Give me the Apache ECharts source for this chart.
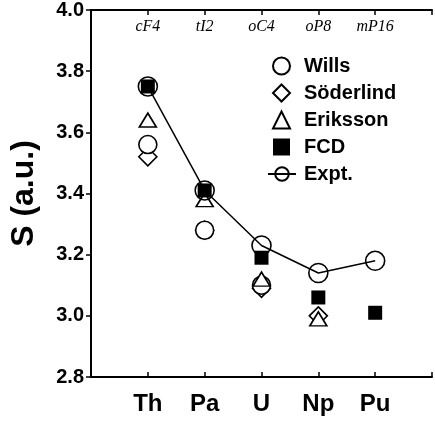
<!DOCTYPE html>
<html>
<head>
<meta charset="utf-8">
<script src="https://cdn.jsdelivr.net/npm/echarts@6/dist/echarts.min.js"></script>
<style>html,body{margin:0;padding:0;background:#fff}#c{width:435px;height:424px}</style>
</head>
<body>
<div id="c"></div>
<script>
const categories = ['Th', 'Pa', 'U', 'Np', 'Pu'];
const structures = ['cF4', 'tI2', 'oC4', 'oP8', 'mP16'];
const yTicks = [2.8, 3.0, 3.2, 3.4, 3.6, 3.8, 4.0];
const wills = [3.56, 3.28, 3.10, null, null];
const soderlind = [3.52, 3.28, 3.09, 3.00, null];
const eriksson = [3.64, 3.38, 3.12, 2.99, null];
const fcd = [3.75, 3.41, 3.19, 3.06, 3.01];
const expt = [3.75, 3.41, 3.23, 3.14, 3.18];

const pts = arr => arr.map((v, i) => v == null ? null : [i + 1, v]).filter(p => p);
const open = { color: '#fff', borderColor: '#000', borderWidth: 1.6, opacity: 1 };
const boldFont = { fontFamily: 'Liberation Sans, Arial, sans-serif', fontWeight: 'bold', color: '#000' };
const legendText = { ...boldFont, fontSize: 20, lineHeight: 20 };

const chart = echarts.init(document.getElementById('c'), null, { renderer: 'canvas' });
chart.setOption({
  animation: false,
  backgroundColor: '#fff',
  grid: { left: 87, right: 2, top: 9, bottom: 47 },
  xAxis: [{
    type: 'value', min: 0, max: 6, interval: 1, position: 'bottom',
    axisLine: { lineStyle: { color: '#000', width: 2 } },
    axisTick: { inside: true, length: 5, lineStyle: { color: '#000', width: 1.5 } },
    splitLine: { show: false },
    axisLabel: { ...boldFont, fontSize: 24, margin: 15,
      formatter: v => (v >= 1 && v <= 5) ? categories[v - 1] : '' }
  }, {
    type: 'value', min: 0, max: 6, interval: 1, position: 'top',
    axisLine: { show: true, lineStyle: { color: '#000', width: 2 } },
    axisTick: { inside: true, length: 5, lineStyle: { color: '#000', width: 1.5 } },
    splitLine: { show: false },
    axisLabel: { inside: true, margin: 9, fontFamily: 'Liberation Serif, Times New Roman, serif',
      fontStyle: 'italic', fontSize: 16, color: '#000',
      formatter: v => (v >= 1 && v <= 5) ? structures[v - 1] : '' }
  }],
  yAxis: [{
    type: 'value', min: yTicks[0], max: yTicks[yTicks.length - 1], interval: 0.2,
    axisLine: { show: true, lineStyle: { color: '#000', width: 2 } },
    axisTick: { show: true, length: 5, lineStyle: { color: '#000', width: 1.5 } },
    splitLine: { show: false },
    axisLabel: { ...boldFont, fontSize: 20, margin: 7, formatter: v => v.toFixed(1) },
    name: 'S (a.u.)', nameLocation: 'middle', nameGap: 51, nameRotate: 90,
    nameTextStyle: { ...boldFont, fontSize: 32 }
  }, {
    type: 'value', min: yTicks[0], max: yTicks[yTicks.length - 1], interval: 0.2, position: 'right',
    axisLine: { show: true, lineStyle: { color: '#000', width: 2 } },
    axisTick: { show: true, inside: true, length: 5, lineStyle: { color: '#000', width: 1.5 } },
    splitLine: { show: false },
    axisLabel: { show: false }
  }],
  legend: [{
    orient: 'vertical', left: 267, top: 51, itemWidth: 17, itemHeight: 17, itemGap: 7,
    textStyle: { ...legendText, padding: [0, 0, 0, 9] },
    data: ['Wills', 'Söderlind', 'Eriksson', 'FCD']
  }, {
    orient: 'vertical', left: 262, top: 159, itemWidth: 28, itemHeight: 17,
    textStyle: { ...legendText, padding: [0, 0, 0, 3] },
    data: ['Expt.']
  }],
  series: [
    { name: 'Wills', type: 'scatter', symbol: 'circle', symbolSize: 18, itemStyle: open, data: pts(wills), z: 3 },
    { name: 'Söderlind', type: 'scatter', symbol: 'diamond', symbolSize: 18, itemStyle: open, data: pts(soderlind), z: 2 },
    { name: 'Eriksson', type: 'scatter', symbol: 'triangle', symbolSize: [17, 14], itemStyle: open, data: pts(eriksson), z: 4 },
    { name: 'FCD', type: 'scatter', symbol: 'rect', symbolSize: 14, itemStyle: { color: '#000', opacity: 1 }, data: pts(fcd), z: 5 },
    { name: 'Expt.', type: 'line', symbol: 'circle', symbolSize: 19, showSymbol: true,
      lineStyle: { color: '#000', width: 1.5 },
      itemStyle: { color: 'rgba(255,255,255,0)', borderColor: '#000', borderWidth: 1.6 },
      data: pts(expt), z: 6 }
  ]
});
</script>
</body>
</html>
